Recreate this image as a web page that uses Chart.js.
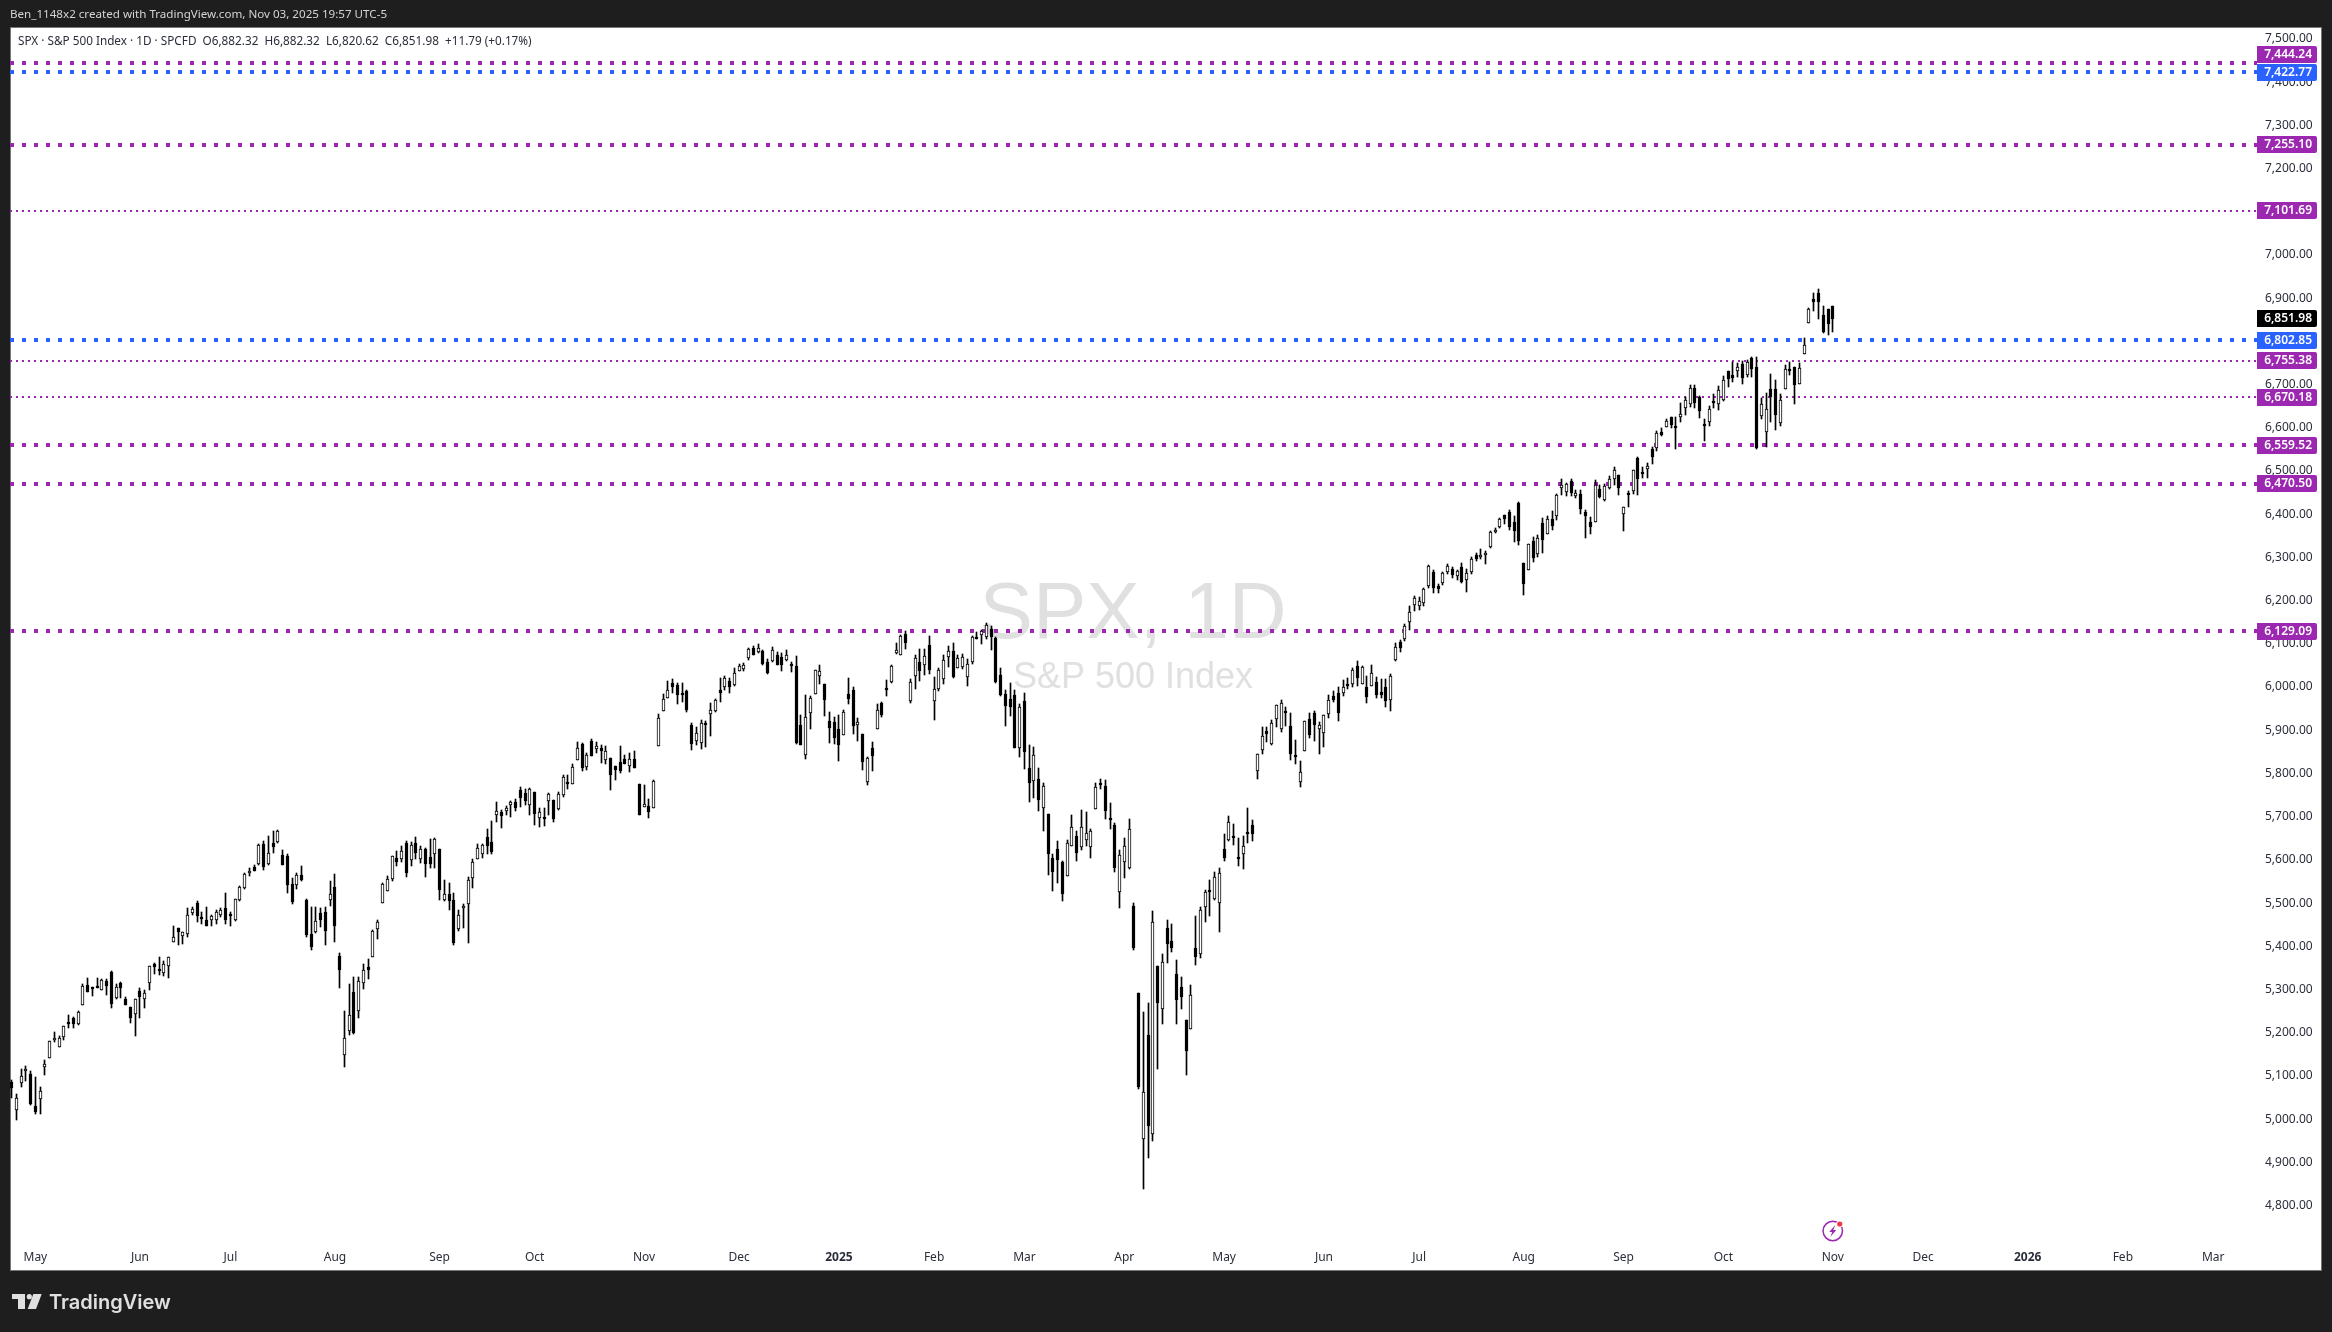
<!DOCTYPE html>
<html>
<head>
<meta charset="utf-8">
<title>SPX 1D</title>
<style>html,body{margin:0;padding:0;background:#1e1e1e}canvas{display:block}</style>
<script src="https://cdn.jsdelivr.net/npm/chart.js@4/dist/chart.umd.min.js"></script>
</head>
<body>
<canvas id="c" width="2332" height="1332"></canvas>
<script>
const opens=[5085,5020,5084,5115,5104,5030,5047,5121,5142,5186,
5168,5189,5225,5233,5221,5263,5310,5305,5307,5298,
5319,5340,5280,5316,5278,5259,5243,5296,5277,5314,
5359,5347,5339,5354,5409,5442,5423,5429,5476,5500,
5468,5460,5460,5460,5473,5488,5475,5462,5506,5536,
5572,5583,5591,5637,5590,5638,5642,5611,5609,5544,
5543,5564,5507,5428,5432,5476,5479,5506,5537,5378,
5149,5205,5294,5251,5314,5351,5376,5441,5501,5529,
5556,5604,5603,5639,5600,5638,5603,5625,5607,5613,
5625,5506,5520,5507,5440,5490,5497,5557,5603,5614,
5654,5641,5703,5710,5712,5726,5733,5762,5754,5726,
5757,5698,5699,5737,5738,5718,5751,5780,5775,5830,
5868,5815,5874,5857,5859,5832,5836,5817,5827,5833,
5818,5833,5776,5723,5724,5721,5864,5945,5975,6009,
6005,5986,5991,5912,5874,5870,5917,5938,5944,5992,
6001,6013,6004,6038,6042,6068,6090,6080,6083,6057,
6060,6073,6069,6063,6053,6048,5911,5842,5939,5983,
6025,6007,5921,5918,5902,5890,5983,5992,5911,5891,
5780,5858,5904,5962,5998,6012,6079,6075,6123,5968,
6026,6057,6050,6097,5968,5996,6019,6070,6083,6045,
6047,6024,6059,6116,6121,6116,6134,6113,6028,5984,
5972,5982,5859,5968,5813,5783,5787,5720,5706,5604,
5625,5595,5563,5632,5655,5630,5646,5630,5718,5778,
5771,5697,5681,5526,5595,5581,5493,5292,4954,5195,
4966,5354,5255,5442,5412,5336,5306,5229,5209,5396,
5382,5491,5530,5509,5500,5625,5646,5655,5607,5614,
5665,5681,5806,5854,5898,5868,5926,5903,5945,5910,
5843,5780,5852,5926,5940,5903,5894,5938,5979,5986,
5986,6007,6007,6049,6007,6000,6002,6012,5989,6000,
5970,6063,6104,6111,6150,6190,6188,6194,6234,6266,
6234,6241,6266,6273,6257,6278,6248,6266,6306,6301,
6306,6324,6361,6370,6398,6404,6381,6427,6286,6272,
6337,6308,6379,6355,6390,6395,6461,6452,6477,6443,
6446,6406,6381,6383,6458,6434,6461,6482,6490,6401,
6449,6454,6529,6497,6504,6550,6554,6590,6602,6624,
6603,6626,6646,6655,6692,6671,6609,6613,6662,6655,
6664,6731,6722,6731,6748,6722,6761,6741,6627,6590,
6690,6690,6611,6690,6736,6741,6701,6771,6842,6898,
6912,6861,6875,6882.32];
const highs=[5091,5058,5115,5123,5111,5098,5074,5138,5180,5201,
5192,5215,5241,5237,5250,5312,5327,5306,5327,5324,
5325,5342,5312,5317,5282,5260,5279,5304,5298,5354,
5362,5376,5365,5375,5447,5442,5433,5488,5490,5504,
5479,5490,5473,5483,5489,5523,5480,5510,5540,5569,
5581,5589,5637,5643,5655,5666,5668,5622,5613,5557,
5569,5586,5509,5490,5490,5489,5490,5551,5567,5384,
5250,5313,5330,5328,5359,5371,5437,5462,5546,5563,
5609,5621,5631,5643,5641,5653,5631,5628,5648,5650,
5625,5553,5546,5523,5483,5497,5560,5601,5636,5637,
5672,5689,5735,5716,5725,5737,5740,5769,5764,5766,
5757,5719,5719,5754,5739,5756,5796,5797,5821,5873,
5870,5847,5879,5872,5867,5863,5836,5817,5863,5842,
5847,5851,5776,5773,5741,5784,5938,5984,6013,6019,
6010,6010,5992,5916,5907,5924,5921,5962,5972,6022,
6025,6022,6043,6053,6055,6090,6095,6100,6086,6065,
6093,6080,6078,6086,6057,6072,5935,5982,5979,6039,
6051,6007,5942,5931,5935,5948,6021,5999,5928,5891,
5837,5872,5960,5965,6016,6051,6101,6120,6130,6019,
6074,6088,6088,6119,6023,6043,6074,6096,6101,6074,
6077,6064,6118,6127,6132,6148,6141,6116,6044,5993,
6009,5993,5961,5986,5866,5861,5813,5778,5706,5614,
5644,5597,5646,5704,5667,5715,5711,5671,5778,5787,
5785,5732,5685,5623,5651,5695,5500,5292,5248,5269,
5482,5354,5382,5461,5452,5368,5329,5229,5310,5470,
5491,5530,5553,5572,5581,5660,5702,5683,5651,5655,
5720,5692,5846,5907,5907,5924,5959,5970,5954,5940,
5877,5829,5922,5940,5945,5919,5935,5982,5991,6000,
6016,6021,6044,6060,6049,6025,6051,6023,6019,6019,
6030,6102,6109,6146,6187,6211,6208,6229,6282,6271,
6238,6266,6285,6278,6271,6287,6273,6301,6310,6319,
6315,6361,6368,6391,6399,6409,6396,6428,6286,6331,
6347,6353,6391,6395,6407,6446,6481,6473,6481,6456,
6456,6410,6393,6479,6468,6469,6488,6509,6491,6416,
6453,6503,6532,6509,6518,6556,6592,6599,6620,6626,
6624,6657,6671,6699,6699,6674,6620,6650,6678,6697,
6720,6732,6752,6750,6755,6757,6764,6764,6669,6680,
6724,6711,6678,6745,6752,6741,6750,6808,6877,6912,
6921,6882,6875,6882.32];
const lows=[5048,4998,5075,5089,5033,5013,5013,5102,5142,5178,
5168,5182,5211,5211,5218,5263,5295,5286,5304,5298,
5287,5257,5279,5281,5265,5223,5193,5234,5258,5300,
5337,5334,5332,5327,5409,5404,5406,5422,5472,5457,
5452,5448,5448,5452,5468,5452,5448,5459,5505,5533,
5563,5575,5587,5577,5588,5617,5640,5587,5524,5498,
5532,5551,5422,5392,5431,5445,5404,5493,5410,5304,
5121,5195,5197,5234,5301,5325,5376,5417,5501,5527,
5551,5586,5594,5560,5586,5603,5593,5560,5582,5582,
5506,5505,5483,5404,5435,5442,5408,5535,5601,5604,
5614,5614,5688,5674,5705,5700,5714,5723,5727,5705,
5681,5675,5679,5704,5688,5716,5746,5764,5775,5830,
5806,5808,5841,5847,5824,5822,5762,5785,5802,5822,
5803,5813,5705,5723,5697,5721,5864,5945,5975,5987,
5961,5966,5942,5854,5867,5857,5861,5887,5943,5965,
5993,5986,6003,6036,6036,6063,6075,6079,6050,6030,
6058,6050,6038,6060,6035,5868,5867,5834,5904,5983,
6007,5933,5870,5868,5829,5889,5961,5891,5875,5808,
5773,5806,5903,5931,5979,6009,6077,6074,6088,5963,
5996,6014,6028,6030,5924,5991,6007,6047,6022,6044,
6042,6002,6053,6111,6100,6111,6086,6010,5979,5910,
5933,5859,5838,5810,5734,5743,5713,5667,5565,5528,
5546,5505,5563,5632,5597,5623,5632,5604,5718,5764,
5695,5671,5572,5489,5558,5579,5392,5070,4838,4910,
4949,5116,5220,5361,5387,5220,5255,5102,5209,5357,
5373,5456,5470,5507,5433,5597,5644,5634,5586,5579,
5639,5644,5787,5845,5873,5866,5907,5896,5910,5831,
5822,5769,5852,5882,5875,5845,5861,5928,5965,5921,
5979,5995,6000,6002,6007,5963,6002,5975,5975,5954,
5945,6060,6081,6107,6132,6176,6178,6188,6229,6218,
6218,6236,6262,6252,6248,6241,6220,6262,6292,6296,
6285,6322,6356,6368,6378,6363,6336,6329,6214,6272,
6289,6302,6310,6355,6363,6387,6444,6443,6443,6437,
6400,6346,6354,6383,6438,6431,6459,6468,6444,6362,
6417,6447,6444,6484,6484,6516,6546,6582,6602,6599,
6551,6613,6630,6648,6646,6623,6569,6604,6646,6641,
6662,6694,6706,6717,6701,6717,6717,6551,6620,6556,
6613,6595,6604,6690,6722,6655,6701,6771,6842,6870,
6852,6819,6815,6820.62];
const closes=[5071,5048,5100,5117,5034,5016,5064,5127,5180,5187,
5187,5215,5221,5221,5248,5307,5295,5304,5304,5321,
5307,5267,5305,5304,5265,5235,5277,5283,5291,5354,
5353,5345,5360,5375,5421,5432,5432,5473,5486,5471,
5466,5448,5469,5479,5483,5460,5471,5509,5537,5567,
5574,5575,5634,5584,5615,5630,5667,5587,5543,5503,
5564,5554,5426,5399,5458,5462,5436,5522,5446,5346,
5187,5240,5199,5319,5344,5344,5435,5456,5544,5555,
5608,5596,5621,5570,5635,5617,5625,5591,5591,5648,
5530,5520,5504,5408,5472,5494,5553,5594,5627,5635,
5633,5618,5712,5702,5719,5733,5721,5744,5737,5764,
5707,5710,5698,5752,5695,5752,5791,5778,5814,5860,
5813,5842,5841,5864,5853,5851,5797,5809,5806,5822,
5833,5813,5705,5729,5711,5782,5928,5973,5994,6000,
5982,5985,5946,5869,5893,5916,5913,5948,5969,5987,
6020,5999,6032,6048,6050,6087,6075,6090,6053,6033,
6085,6050,6050,6073,6052,5871,5867,5930,5975,6039,
6036,5971,5906,5881,5867,5942,5973,5909,5918,5826,
5836,5840,5948,5935,5996,6049,6086,6119,6101,6012,
6067,6037,6072,6040,5995,6040,6062,6083,6023,6067,
6069,6053,6115,6114,6130,6144,6116,6012,5982,5955,
5954,5860,5954,5849,5778,5843,5738,5770,5614,5572,
5599,5521,5639,5676,5615,5675,5662,5667,5768,5777,
5712,5693,5581,5611,5633,5671,5396,5074,5062,4983,
5457,5268,5363,5406,5396,5275,5283,5158,5287,5376,
5484,5525,5529,5560,5569,5604,5687,5650,5606,5631,
5664,5660,5844,5886,5892,5916,5958,5964,5940,5845,
5842,5803,5921,5888,5912,5912,5935,5970,5971,5939,
6000,6006,6039,6022,6047,5977,6033,5982,5981,5968,
6025,6092,6090,6141,6173,6205,6198,6227,6279,6230,
6226,6263,6280,6260,6269,6244,6264,6297,6297,6306,
6310,6359,6363,6389,6390,6370,6362,6339,6238,6330,
6299,6345,6340,6389,6373,6445,6467,6469,6449,6449,
6411,6395,6370,6467,6439,6465,6481,6502,6460,6416,
6448,6502,6482,6495,6512,6532,6587,6584,6615,6606,
6601,6631,6664,6693,6657,6638,6604,6643,6661,6688,
6711,6712,6715,6740,6715,6753,6735,6553,6654,6644,
6671,6629,6664,6735,6735,6699,6738,6792,6875,6890,
6891,6822,6840,6851.98];

const monthLabels=['May','Jun','Jul','Aug','Sep','Oct','Nov','Dec','2025','Feb','Mar','Apr','May','Jun','Jul','Aug','Sep','Oct','Nov','Dec','2026','Feb','Mar'];
const monthIndex=[5,27,46,68,90,110,133,153,174,194,213,234,255,276,296,318,339,360,383,402,424,444,463];
const yearLabels=['2025','2026'];
const priceTicks=[4800,4900,5000,5100,5200,5300,5400,5500,5600,5700,5800,5900,6000,6100,6200,6300,6400,6500,6600,6700,6800,6900,7000,7100,7200,7300,7400,7500];

const levelValues=[7444.24,7422.77,7255.10,7101.69,6802.85,6755.38,6670.18,6559.52,6470.50,6129.09];
const levelColors=['#9c27b0','#2962ff','#9c27b0','#9c27b0','#2962ff','#9c27b0','#9c27b0','#9c27b0','#9c27b0','#9c27b0'];
const levelThin=[false,false,false,true,false,true,true,false,false,false];
const levelTagShift=[-8,0,0,0,0,0,0,0,0,0];

const titleText='Ben_1148x2 created with TradingView.com, Nov 03, 2025 19:57 UTC-5';
const legendText='SPX \u00b7 S&P 500 Index \u00b7 1D \u00b7 SPCFD  O6,882.32  H6,882.32  L6,820.62  C6,851.98  +11.79 (+0.17%)';
const watermarkMain='SPX, 1D';
const watermarkSub='S&P 500 Index';
const brandText='TradingView';

const fmt=v=>v.toLocaleString('en-US',{minimumFractionDigits:2,maximumFractionDigits:2});
const UI_FONT='"Noto Sans", sans-serif';
const xMin=(10-11.6)/4.755, xMax=(2257-11.6)/4.755;
const yMin=4708.7, yMax=7525.2;

const n=closes.length;
const bodyData=closes.map((c,i)=>({x:i,y:[opens[i],c]}));
const wickData=closes.map((c,i)=>({x:i,y:[lows[i],highs[i]]}));
const bodyFill=closes.map((c,i)=>c>=opens[i]?'#ffffff':'#000000');

const levelDatasets=levelValues.map((v,k)=>({
  type:'line',label:'Level '+fmt(v),
  data:[{x:xMin,y:v},{x:xMax,y:v}],
  borderColor:levelColors[k],
  borderWidth:levelThin[k]?2:4,
  borderDash:levelThin[k]?[2,4]:[4,8],
  pointRadius:0,pointHoverRadius:0,tension:0,fill:false,order:3,borderCapStyle:'butt'
}));

function tag(ctx,text,yc,color){
  const x=2257,w=60,h=17,t=Math.round(yc-h/2);
  ctx.fillStyle=color;
  ctx.beginPath();
  ctx.roundRect(x,t,w,h,[0,2,2,0]);
  ctx.fill();
  ctx.fillStyle='#ffffff';
  ctx.font='600 12px '+UI_FONT;
  ctx.textAlign='right';ctx.textBaseline='middle';
  ctx.fillText(text,2312,t+h/2+0.5);
}
function fitText(c,text,x,y,width){
  c.font='12px '+UI_FONT;
  const size=12*width/c.measureText(text).width;
  c.font=size.toFixed(2)+'px '+UI_FONT;
  c.fillText(text,x,y);
}

const tvPlugin={
  id:'tv',
  beforeDraw(chart){
    const c=chart.ctx;
    c.save();
    c.fillStyle='#1e1e1e';c.fillRect(0,0,2332,1332);
    c.fillStyle='#ffffff';c.fillRect(10,27,2312,1244);
    c.strokeStyle='#777777';c.lineWidth=1;
    c.strokeRect(10.5,27.5,2311,1243);
    c.restore();
  },
  beforeDatasetsDraw(chart){
    const c=chart.ctx;
    c.save();
    c.fillStyle='#e0e0e0';
    c.textAlign='center';c.textBaseline='alphabetic';
    c.font='80px "Liberation Sans", Arial, sans-serif';
    c.fillText(watermarkMain,1133,638);
    c.font='36px "Liberation Sans", Arial, sans-serif';
    c.fillText(watermarkSub,1133,688);
    c.restore();
    chart.data.datasets.forEach((ds,di)=>{
      const m=chart.getDatasetMeta(di);
      if(m.type==='bar'){
        m.data.forEach(el=>{
          el.x=Math.floor(el.x)+0.5;
          el.y=Math.round(el.y);
          el.base=Math.round(el.base);
          if(Math.abs(el.base-el.y)<2) el.base=el.y+2;
        });
      } else {
        m.data.forEach(el=>{el.y=Math.round(el.y);});
      }
    });
  },
  afterDraw(chart){
    const c=chart.ctx, ys=chart.scales.y;
    c.save();
    c.textAlign='left';c.textBaseline='middle';
    c.fillStyle='#d4d4d4';
    fitText(c,titleText,10,14.5,377);
    c.fillStyle='#2a2e39';
    fitText(c,legendText,18,41.5,514);
    levelValues.forEach((v,k)=>tag(c,fmt(v),ys.getPixelForValue(v)+levelTagShift[k],levelColors[k]));
    tag(c,fmt(closes[n-1]),ys.getPixelForValue(closes[n-1]),'#000000');
    const ix=chart.scales.x.getPixelForValue(monthIndex[18]),iy=1231;
    c.strokeStyle='#9c27b0';c.lineWidth=1.5;
    c.beginPath();c.arc(ix,iy,9.7,0,Math.PI*2);c.stroke();
    c.fillStyle='#9c27b0';
    c.beginPath();
    c.moveTo(ix+2.5,iy-6);c.lineTo(ix-3.5,iy+1);c.lineTo(ix-0.5,iy+1);c.lineTo(ix-2.5,iy+6);
    c.lineTo(ix+3.5,iy-1);c.lineTo(ix+0.5,iy-1);c.closePath();c.fill();
    c.fillStyle='#ffffff';c.beginPath();c.arc(ix+7,iy-7,3.6,0,Math.PI*2);c.fill();
    c.fillStyle='#f23645';c.beginPath();c.arc(ix+7,iy-7,2.6,0,Math.PI*2);c.fill();
    c.fillStyle='#e0e0e0';
    c.beginPath();
    c.moveTo(12,1294);c.lineTo(25,1294);c.lineTo(25,1309);c.lineTo(18,1309);c.lineTo(18,1299);c.lineTo(12,1299);c.closePath();c.fill();
    c.beginPath();c.arc(29.3,1296.7,2.6,0,Math.PI*2);c.fill();
    c.beginPath();c.moveTo(33.3,1294);c.lineTo(41.7,1294);c.lineTo(36,1309);c.lineTo(27.7,1309);c.closePath();c.fill();
    c.font='600 20px Inter, sans-serif';
    c.textAlign='left';c.textBaseline='alphabetic';
    c.fillText(brandText,49,1309);
    c.restore();
  }
};

new Chart(document.getElementById('c'),{
  data:{datasets:[
    {type:'bar',label:'Body',data:bodyData,backgroundColor:bodyFill,borderColor:'#000000',borderWidth:1,borderSkipped:false,barThickness:3,order:1},
    {type:'bar',label:'Wick',data:wickData,backgroundColor:'#000000',borderWidth:0,barThickness:1,order:2},
    ...levelDatasets
  ]},
  options:{
    responsive:false,animation:false,devicePixelRatio:1,
    layout:{padding:{left:10,top:28,right:10,bottom:61}},
    plugins:{legend:{display:false},title:{display:false},tooltip:{enabled:false}},
    datasets:{bar:{grouped:false}},
    events:[],
    scales:{
      x:{
        type:'linear',min:xMin,max:xMax,offset:false,
        grid:{display:false,drawTicks:false,offset:false},border:{display:false},
        afterFit(s){s.height=26;},
        afterBuildTicks(s){s.ticks=monthIndex.map(v=>({value:v}));},
        ticks:{
          autoSkip:false,maxRotation:0,minRotation:0,padding:5,
          callback(v,i){return monthLabels[i];},
          color:'#2a2e39',
          font:ctx=>{const l=monthLabels[ctx.index];return {family:UI_FONT,size:12,weight:yearLabels.includes(l)?'700':'400'};}
        }
      },
      y:{
        type:'linear',position:'right',min:yMin,max:yMax,
        grid:{display:false,drawTicks:false},border:{display:false},
        afterFit(s){s.width=65;},
        afterBuildTicks(s){s.ticks=priceTicks.map(v=>({value:v}));},
        ticks:{autoSkip:false,padding:8,color:'#2a2e39',font:{family:UI_FONT,size:12},callback:v=>fmt(v)}
      }
    }
  },
  plugins:[tvPlugin]
});
</script>
</body>
</html>
